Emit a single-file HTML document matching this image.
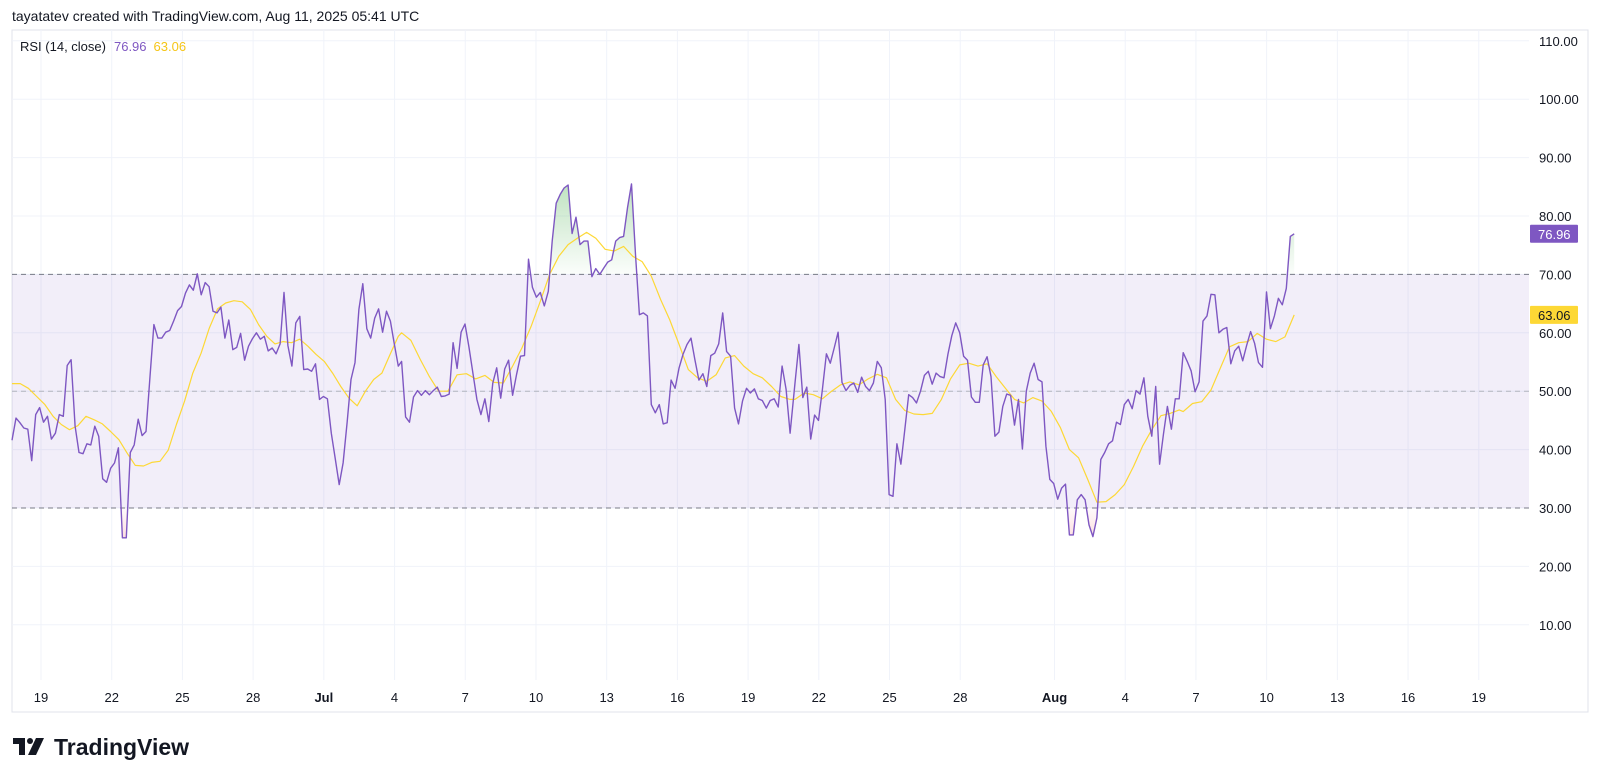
<!DOCTYPE html>
<html><head><meta charset="utf-8"><style>
html,body{margin:0;padding:0;background:#fff;}
svg{display:block;font-family:"Liberation Sans",Arial,sans-serif;}
</style></head><body>
<svg id="chart" width="1600" height="779" viewBox="0 0 1600 779" xmlns="http://www.w3.org/2000/svg">
<defs>
<linearGradient id="gAbove" gradientUnits="userSpaceOnUse" x1="0" y1="158" x2="0" y2="275"><stop offset="0" stop-color="#4caf50" stop-opacity="0.45"/><stop offset="1" stop-color="#4caf50" stop-opacity="0.02"/></linearGradient>
<linearGradient id="gBelow" gradientUnits="userSpaceOnUse" x1="0" y1="508" x2="0" y2="566"><stop offset="0" stop-color="#f23645" stop-opacity="0.02"/><stop offset="1" stop-color="#f23645" stop-opacity="0.3"/></linearGradient>
<clipPath id="clipAbove"><rect x="12" y="30" width="1518" height="245"/></clipPath>
<clipPath id="clipBelow"><rect x="12" y="508" width="1518" height="170"/></clipPath>
</defs>
<text x="12" y="21" font-size="14" fill="#131722">tayatatev created with TradingView.com, Aug 11, 2025 05:41 UTC</text>
<rect x="12" y="30" width="1576" height="682" fill="none" stroke="#e0e3eb" stroke-width="1"/>
<g id="grid"></g>
<g id="band"></g>
<g id="series"></g>
<g id="yaxis"></g>
<g id="xaxis"></g>
<g>
<text x="20" y="51" font-size="13"><tspan fill="#131722">RSI (14, close)</tspan><tspan fill="#7e57c2" dx="8">76.96</tspan><tspan fill="#f5c518" dx="7">63.06</tspan></text>
</g>
<g>
<rect x="13" y="738" width="12" height="6" fill="#131722"/>
<rect x="19" y="738" width="6" height="17" fill="#131722"/>
<circle cx="30" cy="741" r="3" fill="#131722"/>
<polygon points="36,738 44,738 36,755 28,755" fill="#131722"/>
<text x="54" y="755" font-size="23" font-weight="bold" fill="#131722">TradingView</text>
</g>
</svg>
<script>
const tickLabels = ["19","22","25","28","Jul","4","7","10","13","16","19","22","25","28","Aug","4","7","10","13","16","19"];
const tickDays = [0,3,6,9,12,15,18,21,24,27,30,33,36,39,43,46,49,52,55,58,61];
const yTicks = [110,100,90,80,70,60,50,40,30,20,10];
const levels = [70,50,30];
const segStart = [-1.23, 15.30, 31.99, 48.46];
const segEnd = [15.16, 31.78, 48.29, 53.17];
const rsi1 = [41.6,45.4,44.6,43.7,43.5,38.1,46,47.2,44.7,45.7,41.8,42.8,46,45.7,54.4,55.4,44,39.5,39.3,41,40.8,44,42.3,35,34.4,36.8,37.7,40.3,24.9,24.9,39.5,40.8,45.2,42.4,43.1,52.5,61.4,59.1,59.1,60.1,60.4,62,63.8,64.5,66.8,68.2,67.3,70.1,66.5,68.6,67.9,63.7,63.4,64.4,59.1,62.2,57.1,57.5,59.9,55.3,57.7,59,60,58.9,59.4,56.9,57.4,56.4,58.1,66.9,57.8,54.3,61.7,62.8,53.7,53.8,53.4,54.7,48.6,49.1,48.7,42.8,38.5,34,37.7,44.6,52,54.9,64,68.4,60.7,59.1,62.5,64.1,60.1,63.7,62,58,54.3];
const rsi2 = [55.1,45.6,44.7,49,50.1,49.3,50.1,49.4,50.1,50.7,49.1,49.2,49.5,58.3,53.9,60.1,61.5,57.5,53,48.6,46,48.7,44.8,51.4,54,48.8,53.8,55.3,49.3,52.9,56,56.1,72.6,67.8,66.1,66.9,64.6,67.1,75.7,82.2,83.7,84.8,85.3,77,79.8,75.1,75.7,75.7,69.6,71,70,71.1,72.1,72.5,75.7,76.3,76.5,81.4,85.5,73.4,63.1,63.4,62.9,47.7,46.3,47.7,44.4,44.6,51.9,50.5,54,56.3,58,59.1,55.4,51.9,53,50.8,56.1,56.5,58.1,63.4,56.8,56,47.1,44.4,48.3,50.5,49.7,50.4,48.7,48.4,47.1,48.4,48.7,47.3,54.3,50.3,42.8];
const rsi3 = [51.4,58,48.9,50.7,41.8,45.9,45,50.3,56.4,54.8,57.4,60.1,51.5,50.1,51,51.4,49.8,52.4,50.8,50.1,51.4,55.1,54,48.6,32.3,32,41,37.5,43.4,49.4,48.9,48,50,52.7,53.4,51.2,53.1,52.5,52.3,56.3,59.5,61.7,60,56,55.3,49,48.1,48.1,54.5,55.9,52.5,42.3,43,47.4,49.5,49.3,44.2,48.6,40.1,50,53.1,54.8,52,51.6,40.6,34.9,34.2,31.5,33.4,34.1,25.4,25.4,31.4,32.3,31.4,27.1,25.1,28.3,38.3,39.5,41,41.5,44.7,44.3,47.7,48.6,47,50.1,49.5,52.3,45.7,42.3,50.8,37.5,42.7,47.4,43.5,48.7,48.7];
const rsi4 = [56.6,55.1,53.5,49.9,51.6,62,62.9,66.6,66.5,60,60.6,60.9,54.7,56.9,57.7,55.2,57.8,60.2,58.2,54.9,54.1,67,60.7,62.9,65.9,64.8,67.6,76.5,76.96];
const ma1 = [51.3,51.3,50.5,49.1,47.7,45.7,44.3,43.4,44.1,45.7,45.1,44.4,43.1,41.7,39.4,37.3,37.2,37.8,38,39.9,44.3,48.3,53.1,56.5,60.8,64.1,65.1,65.5,65.3,64,61.4,59.4,58.1,58.5,58.3,58.9,57.7,56.3,55.1,53.1,50.8,48.8,47.5,50,52,53.1,56.3,59.4];
const ma2 = [60,58.7,55.5,52.5,50,50,52.8,53,52.1,52.7,51.5,51.4,54.3,57.4,61.1,65.4,70,73.1,75.1,76.2,77.2,76.2,74.3,74,74.8,73.1,72.2,69.7,65.7,62.2,58,53.7,52.3,51.7,52.8,55.7,56.1,54.3,53,52.3,50.8,49.1,48.6];
const ma3 = [48.6,49.7,49.4,48.7,50,51.1,51.6,51.1,52.1,52.9,52.3,48.6,46.7,46.1,46,46.2,48.6,52.1,54.5,54.8,54.3,54.7,52.5,50.5,48.6,48,48.9,48.3,46.6,43.8,40,38.6,34.9,31,31.1,32.3,34,37.1,40.6,43.4,45.8,46.2,46.8];
const ma4 = [46.5,47.9,48.2,50.2,53.9,57.6,58.3,58.5,59.9,58.9,58.5,59.3,63.06];

const X0 = 41, DAYPX = 23.57;
function xDay(d){ return X0 + d*DAYPX; }
function yVal(v){ return 508 - (v-30)*5.84; }
const NS = "http://www.w3.org/2000/svg";
function mk(tag, attrs, parent){ const e=document.createElementNS(NS,tag); for(const k in attrs) e.setAttribute(k, attrs[k]); parent.appendChild(e); return e; }

const grid = document.getElementById('grid');
yTicks.forEach(v=>{
  const l = mk('line',{x1:12,x2:1529,y1:yVal(v),y2:yVal(v),stroke:'#f0f3fa','stroke-width':1},grid);
  
  
});
tickDays.forEach(d=>{
  const l = mk('line',{x1:xDay(d),x2:xDay(d),y1:30,y2:680,stroke:'#f0f3fa','stroke-width':1},grid);
  
  
});

const band = document.getElementById('band');
const br = mk('rect',{x:12,y:yVal(70),width:1517,height:yVal(30)-yVal(70),fill:'#7e57c2','fill-opacity':0.1},band);


levels.forEach(v=>{
  const l = mk('line',{x1:12,x2:1529,y1:yVal(v),y2:yVal(v),stroke: v===50?'#b2b5be':'#787b86','stroke-width':1,'stroke-dasharray':'5,4'},band);
  
  
});

function buildPts(segs){
  const pts=[];
  segs.forEach((arr,s)=>{
    const n=arr.length;
    arr.forEach((v,i)=>{ const d = segStart[s] + (segEnd[s]-segStart[s])*i/(n-1); pts.push([xDay(d), yVal(v)]); });
  });
  return pts;
}
const rsiPts = buildPts([rsi1,rsi2,rsi3,rsi4]);
const maPts = buildPts([ma1,ma2,ma3,ma4]);
const series = document.getElementById('series');
const pstr = p => p.map(q=>q[0].toFixed(1)+','+q[1].toFixed(1)).join(' ');
const first = rsiPts[0], last = rsiPts[rsiPts.length-1];
const fa = mk('polygon',{points: first[0]+','+yVal(70)+' '+pstr(rsiPts)+' '+last[0]+','+yVal(70), fill:'url(#gAbove)','clip-path':'url(#clipAbove)'},series);


const fb = mk('polygon',{points: first[0]+','+yVal(30)+' '+pstr(rsiPts)+' '+last[0]+','+yVal(30), fill:'url(#gBelow)','clip-path':'url(#clipBelow)'},series);


const ma = mk('polyline',{points:pstr(maPts),fill:'none',stroke:'#fdd835','stroke-width':1.2,'stroke-linejoin':'round'},series);


const rl = mk('polyline',{points:pstr(rsiPts),fill:'none',stroke:'#7e57c2','stroke-width':1.4,'stroke-linejoin':'round'},series);



const yaxis = document.getElementById('yaxis');
yTicks.forEach(v=>{
  const t = mk('text',{x:1539,y:yVal(v)+5,'font-size':13,fill:'#131722'},yaxis);
  t.textContent = v.toFixed(2);
  
  
});
const lastRsi = rsi4[rsi4.length-1], lastMa = ma4[ma4.length-1];
const b1 = mk('rect',{x:1530,y:yVal(lastRsi)-9,width:48,height:18,fill:'#7e57c2',rx:1},yaxis);


const t1 = mk('text',{x:1538,y:yVal(lastRsi)+5,'font-size':13,fill:'#fff'},yaxis);
t1.textContent = lastRsi.toFixed(2);


const b2 = mk('rect',{x:1530,y:yVal(lastMa)-9,width:48,height:18,fill:'#fdd835',rx:1},yaxis);


const t2 = mk('text',{x:1538,y:yVal(lastMa)+5,'font-size':13,fill:'#131722'},yaxis);
t2.textContent = lastMa.toFixed(2);



const xaxis = document.getElementById('xaxis');
tickLabels.forEach((lab,i)=>{
  const bold = (lab==='Jul'||lab==='Aug');
  const t = mk('text',{x:xDay(tickDays[i]),y:702,'font-size':13,fill:'#131722','text-anchor':'middle','font-weight': bold?'bold':'normal'},xaxis);
  t.textContent = lab;
  
  
});
</script>
</body></html>
